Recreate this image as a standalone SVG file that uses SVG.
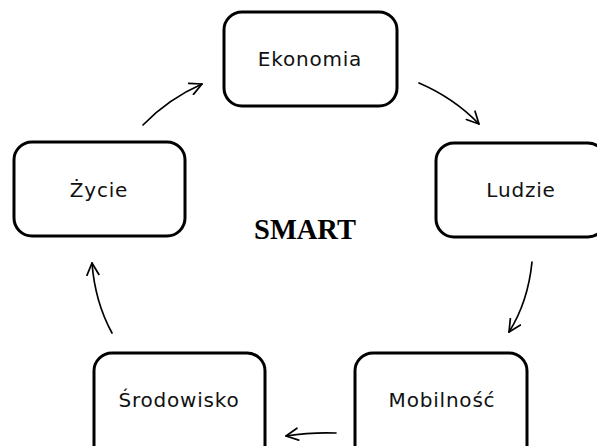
<svg xmlns="http://www.w3.org/2000/svg" width="597" height="446" viewBox="0 0 597 446">
  <style>
    .box { fill: #ffffff; stroke: #000000; stroke-width: 3; }
    .label { font-family: "DejaVu Sans", "Noto Sans", sans-serif; font-size: 20px; letter-spacing: 0.8px; fill: #111111; text-anchor: middle; }
    .title { font-family: "Liberation Serif", serif; font-size: 28.5px; font-weight: bold; fill: #000000; text-anchor: middle; }
    .conn { fill: none; stroke: #000000; stroke-width: 1.7; stroke-linecap: round; }
  </style>
  <defs>
    <!-- open arrowhead shared by all connectors -->
    <marker id="arrow" viewBox="0 0 14 14" refX="13" refY="7" markerWidth="14" markerHeight="14" markerUnits="userSpaceOnUse" orient="auto">
      <path d="M1,1 L13,7 L1,13" fill="none" stroke="#000000" stroke-width="1.7" stroke-linecap="round" stroke-linejoin="round"/>
    </marker>
  </defs>
  <rect width="597" height="446" fill="#ffffff"/>

  <g id="ekonomia">
    <rect class="box" x="224" y="12" width="173" height="94" rx="18"/>
    <text class="label" x="310" y="66">Ekonomia</text>
  </g>
  <g id="ludzie">
    <rect class="box" x="436" y="143" width="170" height="94" rx="18"/>
    <text class="label" x="521" y="197">Ludzie</text>
  </g>
  <g id="mobilnosc">
    <rect class="box" x="355" y="353" width="172" height="110" rx="18"/>
    <text class="label" x="442" y="407">Mobilność</text>
  </g>
  <g id="srodowisko">
    <rect class="box" x="94" y="353" width="171" height="110" rx="18"/>
    <text class="label" x="179" y="407">Środowisko</text>
  </g>
  <g id="zycie">
    <rect class="box" x="14" y="142" width="171" height="94" rx="18"/>
    <text class="label" x="99" y="197">Życie</text>
  </g>

  <text class="title" x="305" y="239">SMART</text>

  <g id="connectors">
    <path class="conn" marker-end="url(#arrow)" d="M143,125 Q168,99 202,84"/>
    <path class="conn" marker-end="url(#arrow)" d="M419,83 Q454,98 479,124"/>
    <path class="conn" marker-end="url(#arrow)" d="M532,262 Q528,302 509,332"/>
    <path class="conn" marker-end="url(#arrow)" d="M336,433 Q312,432 286,436"/>
    <path class="conn" marker-end="url(#arrow)" d="M112,333 Q95,302 92,263"/>
  </g>
</svg>
